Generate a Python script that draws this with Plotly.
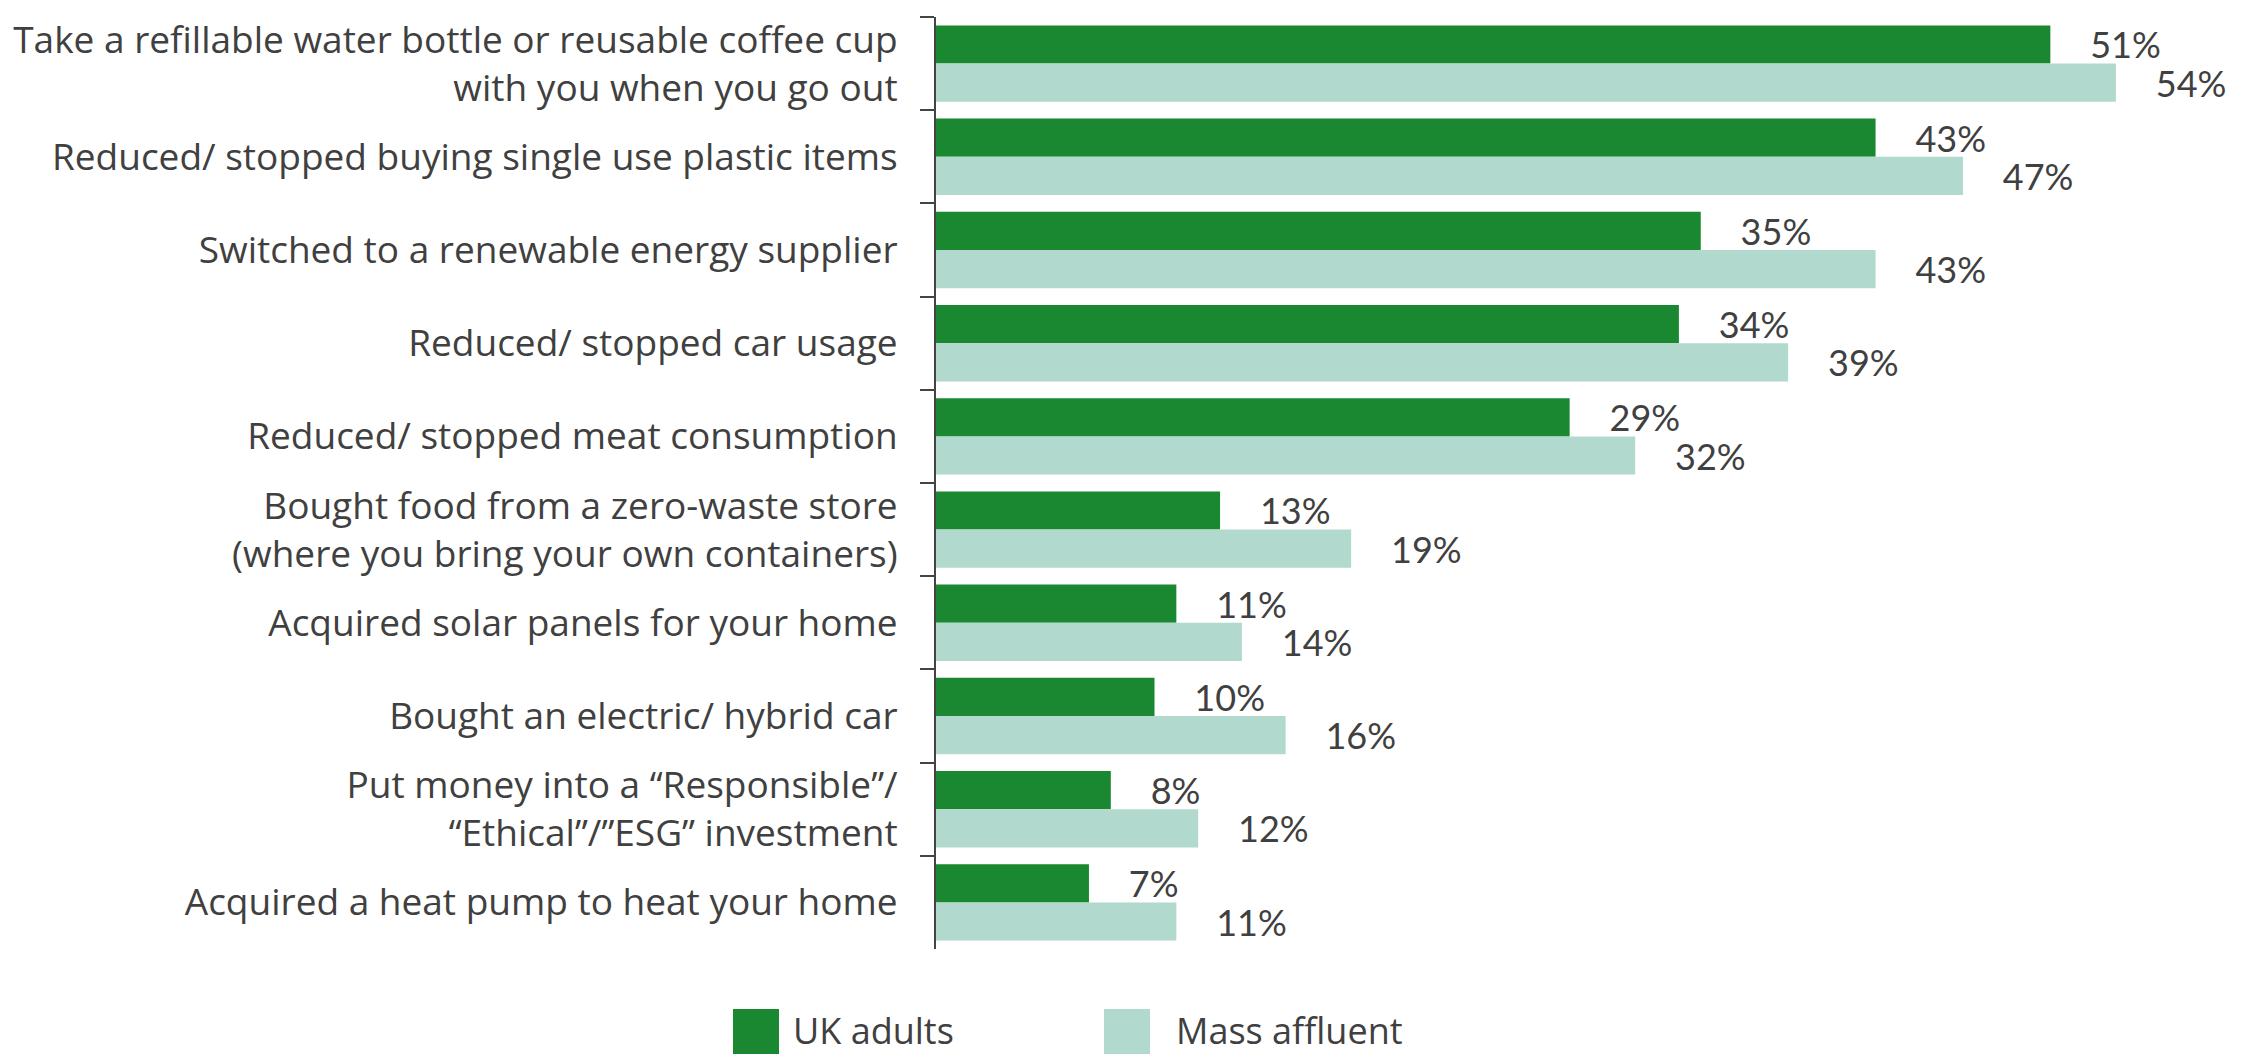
import plotly.graph_objects as go

categories = [
    "Take a refillable water bottle or reusable coffee cup<br>with you when you go out",
    "Reduced/ stopped buying single use plastic items",
    "Switched to a renewable energy supplier",
    "Reduced/ stopped car usage",
    "Reduced/ stopped meat consumption",
    "Bought food from a zero-waste store<br>(where you bring your own containers)",
    "Acquired solar panels for your home",
    "Bought an electric/ hybrid car",
    "Put money into a \u201cResponsible\u201d/<br>\u201cEthical\u201d/\u201dESG\u201d investment",
    "Acquired a heat pump to heat your home",
]
uk_adults = [51, 43, 35, 34, 29, 13, 11, 10, 8, 7]
mass_affluent = [54, 47, 43, 39, 32, 19, 14, 16, 12, 11]
series_names = ["UK adults", "Mass affluent"]

GREEN = "#198831"
LIGHT = "#b1d9cd"
TEXT = "#404040"
LABEL_FONT = "Open Sans"
VALUE_FONT = "Lato"
PAD = "\u00a0" * 4

W, H = 2254, 1057
L, R, T, B = 936, 7, 17, 108
pw, ph = W - L - R, H - T - B

def px_x(p):
    return (p - L) / pw

def px_y(p):
    return (H - B - p) / ph

fig = go.Figure()
for name, vals, col in [(series_names[0], uk_adults, GREEN), (series_names[1], mass_affluent, LIGHT)]:
    fig.add_trace(go.Bar(
        y=categories, x=vals, name=name, orientation="h",
        marker=dict(color=col, line=dict(width=0)),
        text=[f"{PAD}{v}%" for v in vals], textposition="outside",
        textfont=dict(family=VALUE_FONT, size=36, color=TEXT),
        constraintext="none", cliponaxis=False, showlegend=False,
    ))

fig.update_layout(
    width=W, height=H,
    margin=dict(l=L, r=R, t=T, b=B),
    barmode="group", bargap=0.18, bargroupgap=0,
    plot_bgcolor="white", paper_bgcolor="white",
    font=dict(family=LABEL_FONT, size=37, color=TEXT),
    xaxis=dict(range=[0, 60], visible=False),
    yaxis=dict(
        autorange="reversed", showline=True, linecolor="#444444", linewidth=2,
        ticks="outside", tickson="boundaries", ticklen=14, tickwidth=2, tickcolor="#444444",
        ticklabelstandoff=29, tickfont=dict(family=LABEL_FONT, size=37, color=TEXT),
        showgrid=False,
    ),
)

# legend drawn manually (large swatches)
legend_items = [(series_names[0], GREEN, 733, 779, 791), (series_names[1], LIGHT, 1104, 1150, 1174)]
for name, col, x0, x1, tx in legend_items:
    fig.add_shape(type="rect", xref="paper", yref="paper",
                  x0=px_x(x0), x1=px_x(x1), y0=px_y(1054), y1=px_y(1009),
                  fillcolor=col, line=dict(width=0))
    fig.add_annotation(xref="paper", yref="paper", x=px_x(tx), y=px_y(1030),
                       text=name, showarrow=False, xanchor="left", yanchor="middle",
                       font=dict(family=LABEL_FONT, size=36, color=TEXT))

fig.write_html("out.html")
